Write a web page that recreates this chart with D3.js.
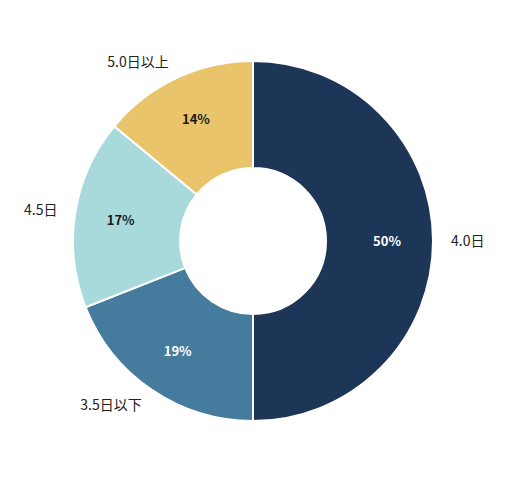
<!DOCTYPE html>
<html>
<head>
<meta charset="utf-8">
<script src="https://cdn.jsdelivr.net/npm/d3@7"></script>
<style>
  body { margin: 0; background: #fff; }
  text { font-family: "Noto Sans CJK JP", "Noto Sans", sans-serif; }
</style>
</head>
<body>
<div id="chart"></div>
<script>
// slices, clockwise from 12 o'clock
const categories = ["4.0日", "3.5日以下", "4.5日", "5.0日以上"];
const values = [50, 19, 17, 14];
const colors = ["#1d3557", "#457b9d", "#a8dadc", "#e9c46a"];
const pctColors = ["#ffffff", "#ffffff", "#1a1a1a", "#1a1a1a"];

const width = 510, height = 479;
const cx = 253, cy = 241;
const outerR = 180, innerR = 73;

let svg = d3.select("#chart")
  .append("svg")
  .attr("width", width)
  .attr("height", height);

let g = svg.append("g").attr("transform", `translate(${cx},${cy})`);

let data = categories.map((c, i) => ({ name: c, value: values[i], i: i }));

let pie = d3.pie().sort(null).value(d => d.value);
let arcs = pie(data);

let arc = d3.arc().innerRadius(innerR).outerRadius(outerR);
let pctArc = d3.arc().innerRadius(134).outerRadius(134);
let labelArc = d3.arc().innerRadius(198).outerRadius(198);

g.selectAll("path")
  .data(arcs)
  .enter().append("path")
  .attr("d", arc)
  .attr("fill", d => colors[d.data.i])
  .attr("stroke", "#fff")
  .attr("stroke-width", 2);

// percentages inside the ring
g.selectAll(".pct")
  .data(arcs)
  .enter().append("text")
  .attr("class", "pct")
  .attr("transform", d => `translate(${pctArc.centroid(d)})`)
  .attr("text-anchor", "middle")
  .attr("dy", "0.35em")
  .style("font-size", "13px")
  .style("font-weight", "bold")
  .style("fill", d => pctColors[d.data.i])
  .text(d => d.data.value + "%");

// category labels outside
g.selectAll(".lbl")
  .data(arcs)
  .enter().append("text")
  .attr("class", "lbl")
  .attr("transform", d => `translate(${labelArc.centroid(d)})`)
  .attr("text-anchor", d => (d.startAngle + d.endAngle) / 2 < Math.PI ? "start" : "end")
  .attr("dy", "0.35em")
  .style("font-size", "14px")
  .style("fill", "#222")
  .text(d => d.data.name);
</script>
</body>
</html>
